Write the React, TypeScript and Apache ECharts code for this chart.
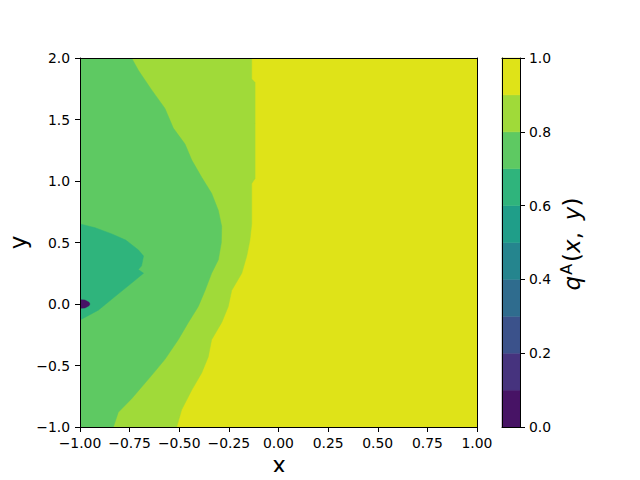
import React, { useEffect, useRef } from "react";
import * as echarts from "echarts";

// contour levels and their fill colours (viridis at level midpoints)
const levels = [0, 0.1, 0.2, 0.3, 0.4, 0.5, 0.6, 0.7, 0.8, 0.9, 1.0];
const levelColors = [
  "#471365", "#46337e", "#3b528b", "#2f6c8e", "#25858e",
  "#1f9e89", "#2fb47c", "#5ec962", "#a0da39", "#dfe318",
];

// boundary q = 0.9 (x position at each y)
const b9Y = [2.0, 1.83, 1.8, 1.47, 1.02, 0.98, 0.65, 0.52, 0.39, 0.25, 0.11, -0.02, -0.15, -0.29, -0.43, -0.56, -0.7, -0.86, -1.0];
const b9X = [-0.135, -0.135, -0.118, -0.118, -0.118, -0.135, -0.135, -0.144, -0.16, -0.185, -0.236, -0.253, -0.286, -0.337, -0.354, -0.387, -0.437, -0.488, -0.513];

// boundary q = 0.8
const b8Y = [2.0, 1.9, 1.74, 1.59, 1.43, 1.3, 1.17, 1.03, 0.9, 0.76, 0.63, 0.5, 0.36, 0.25, 0.11, -0.02, -0.15, -0.29, -0.45, -0.58, -0.77, -0.88, -1.0];
const b8X = [-0.74, -0.706, -0.639, -0.572, -0.53, -0.471, -0.437, -0.387, -0.337, -0.303, -0.286, -0.288, -0.303, -0.337, -0.37, -0.404, -0.454, -0.505, -0.572, -0.639, -0.74, -0.807, -0.832];

// region 0.6 - 0.7
const tealX = [-1, -0.924, -0.84, -0.77, -0.706, -0.68, -0.69, -0.706, -0.68, -0.74, -0.824, -0.908, -1];
const tealY = [0.65, 0.62, 0.57, 0.52, 0.44, 0.39, 0.31, 0.28, 0.25, 0.17, 0.06, -0.05, -0.13];

// region 0.0 - 0.1
const dotX = [-1, -0.975, -0.955, -0.95, -0.955, -0.975, -1];
const dotY = [0.035, 0.032, 0.015, 0, -0.015, -0.032, -0.035];

const X_MIN = -1, X_MAX = 1, Y_MIN = -1, Y_MAX = 2;

const zip = (xs: number[], ys: number[]) => xs.map((x, i) => [x, ys[i]]);

const regions: { pts: number[][]; level: number }[] = [
  { pts: [[X_MIN, Y_MIN], [X_MAX, Y_MIN], [X_MAX, Y_MAX], [X_MIN, Y_MAX]], level: 9 },
  { pts: [[X_MIN, Y_MAX], ...zip(b9X, b9Y), [X_MIN, Y_MIN]], level: 8 },
  { pts: [[X_MIN, Y_MAX], ...zip(b8X, b8Y), [X_MIN, Y_MIN]], level: 7 },
  { pts: zip(tealX, tealY), level: 6 },
  { pts: zip(dotX, dotY), level: 0 },
];

const FONT = "DejaVu Sans";
const minus = (s: string) => s.replace("-", "\u2212");

export default function App() {
  const ref = useRef<HTMLDivElement>(null);
  useEffect(() => {
    if (!ref.current) return;
    const chart = echarts.init(ref.current, null, { renderer: "svg" });
    const black = "#000";
    const spine = { show: true, onZero: false, lineStyle: { color: black, width: 1 } };
    const tick = { show: true, length: 5, inside: false, lineStyle: { color: black, width: 1 } };
    const label = { color: black, fontSize: 13.9, fontFamily: FONT };
    const bare = (extra: any) => ({
      type: "value",
      z: 10,
      axisLine: spine,
      axisTick: { show: false },
      axisLabel: { show: false },
      splitLine: { show: false },
      ...extra,
    });
    const big = 23;
    const option: any = {
      animation: false,
      backgroundColor: "#fff",
      grid: [
        { left: 80, top: 58, width: 397, height: 369 },
        { left: 502, top: 58, width: 18, height: 369 },
      ],
      xAxis: [
        {
          type: "value", gridIndex: 0, min: X_MIN, max: X_MAX, interval: 0.25, position: "bottom", z: 10,
          axisLine: spine, axisTick: tick, splitLine: { show: false },
          axisLabel: { ...label, margin: 9, formatter: (v: number) => minus(v.toFixed(2)) },
        },
        bare({ gridIndex: 0, min: X_MIN, max: X_MAX, position: "top" }),
        bare({ gridIndex: 1, min: 0, max: 1, position: "bottom" }),
        bare({ gridIndex: 1, min: 0, max: 1, position: "top" }),
      ],
      yAxis: [
        {
          type: "value", gridIndex: 0, min: Y_MIN, max: Y_MAX, interval: 0.5, position: "left", z: 10,
          axisLine: spine, axisTick: tick, splitLine: { show: false },
          axisLabel: { ...label, margin: 10, formatter: (v: number) => minus(v.toFixed(1)) },
        },
        bare({ gridIndex: 0, min: Y_MIN, max: Y_MAX, position: "right" }),
        {
          type: "value", gridIndex: 1, min: 0, max: 1, interval: 0.2, position: "right", z: 10,
          axisLine: spine, axisTick: tick, splitLine: { show: false },
          axisLabel: { ...label, margin: 9, formatter: (v: number) => v.toFixed(1) },
        },
        bare({ gridIndex: 1, min: 0, max: 1, position: "left" }),
      ],
      series: [
        {
          type: "custom",
          xAxisIndex: 0,
          yAxisIndex: 0,
          clip: true,
          silent: true,
          z: 1,
          encode: { x: 0, y: 1 },
          data: regions.map((_, i) => [0, 0, i]),
          renderItem: (_p: any, api: any) => {
            const r = regions[api.value(2)];
            return {
              type: "polygon",
              shape: { points: r.pts.map((p) => api.coord(p)) },
              style: { fill: levelColors[r.level], stroke: levelColors[r.level], lineWidth: 0.5 },
            };
          },
        },
        {
          type: "custom",
          xAxisIndex: 2,
          yAxisIndex: 2,
          silent: true,
          z: 1,
          encode: { x: 0, y: 1 },
          data: levelColors.map((_, i) => [0.5, levels[i], levels[i + 1], i]),
          renderItem: (_p: any, api: any) => {
            const lo = api.value(1), hi = api.value(2), i = api.value(3);
            const a = api.coord([0, lo]);
            const b = api.coord([1, hi]);
            return {
              type: "rect",
              shape: { x: a[0], y: b[1], width: b[0] - a[0], height: a[1] - b[1] },
              style: { fill: levelColors[i], stroke: levelColors[i], lineWidth: 0.5 },
            };
          },
        },
      ],
      graphic: [
        {
          type: "text", x: 279, y: 464.5, z: 20,
          style: { text: "x", fontSize: big, fontFamily: FONT, fill: black, align: "center", verticalAlign: "middle" },
        },
        {
          type: "text", x: 18, y: 242.5, rotation: Math.PI / 2, z: 20,
          style: { text: "y", fontSize: big, fontFamily: FONT, fill: black, align: "center", verticalAlign: "middle" },
        },
        {
          type: "text", x: 572, y: 244, rotation: Math.PI / 2, z: 20,
          style: {
            text: "{i|q}{s|A}{r|(}{i|x}{r|,\u2009 }{i|y}{r|)}",
            align: "center",
            verticalAlign: "middle",
            fill: black,
            rich: {
              i: { fontSize: big, fontFamily: FONT, fontStyle: "italic", fill: black, lineHeight: 27 },
              r: { fontSize: big, fontFamily: FONT, fill: black, lineHeight: 27 },
              s: { fontSize: 16, fontFamily: FONT, fill: black, verticalAlign: "top", lineHeight: 19, padding: [0, 2, 0, 1] },
            },
          },
        },
      ],
    };
    chart.setOption(option);
    return () => chart.dispose();
  }, []);
  return <div ref={ref} style={{ width: 640, height: 480, margin: -8 }} />;
}
